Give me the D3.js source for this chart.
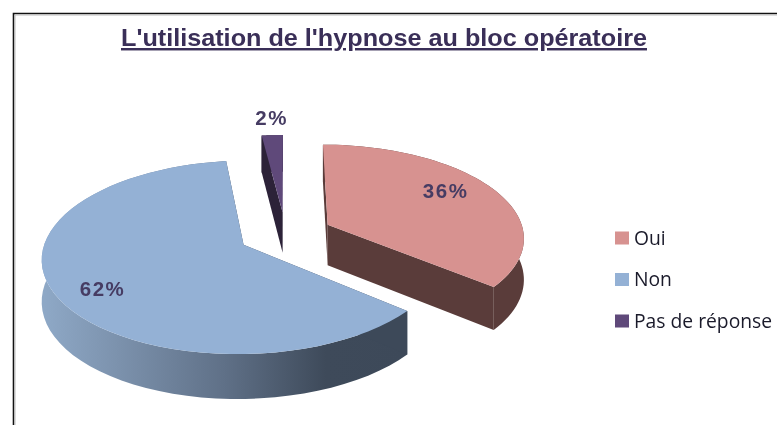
<!DOCTYPE html>
<html><head><meta charset="utf-8">
<style>html,body{margin:0;padding:0;background:#fff}svg{display:block}</style>
<script src="https://cdn.jsdelivr.net/npm/d3@7/dist/d3.min.js"></script>
</head><body><div id="c"></div>
<script>
const chartTitle = "L'utilisation de l'hypnose au bloc opératoire";
const categories = ["Oui", "Non", "Pas de réponse"];
const values = [36, 62, 2];
const topColors = ["#d79290", "#94b1d5", "#5f497a"];
const wallColors = ["#5a3c3a", "url(#nonWall)", "#2c2238"];
const W = 777, H = 425;
const CX = 285.5, CY = 234, RX = 196.5, RY = 92.4, K = 0.127, EXPLODE = 0.24;
const labelShift = [[118, -33], [-141, 45], [-11, -94]];

const svg = d3.select("#c").append("svg").attr("width", W).attr("height", H)
  .style("filter", "blur(0.7px)");

const defs = svg.append("defs");
const g = defs.append("linearGradient").attr("id", "nonWall")
  .attr("gradientUnits", "userSpaceOnUse").attr("x1", 45).attr("x2", 405).attr("y1", 0).attr("y2", 0);
[[0, "#8ea8c6"], [0.2, "#7c92ad"], [0.5, "#5f7087"], [0.78, "#3e4a5a"], [1, "#3d4959"]]
  .forEach(([o, c]) => g.append("stop").attr("offset", o).attr("stop-color", c));

// frame
svg.append("path").attr("d", `M${W},13.5H13.5V${H}`).attr("fill", "none").attr("stroke", "#111").attr("stroke-width", 1.6);
svg.append("path").attr("d", `M${W},15H15V${H}`).attr("fill", "none").attr("stroke", "#bbb").attr("stroke-width", 1);

svg.append("text").text(chartTitle).attr("x", 121).attr("y", 46)
  .attr("font-family", "Liberation Sans").attr("font-weight", "bold").attr("font-size", 24.5)
  .attr("text-decoration", "underline").attr("fill", "#3a2f58")
  .attr("textLength", 526).attr("lengthAdjust", "spacingAndGlyphs");

const project = (X, Z) => {
  const s = 1 / (1 - K * Z);
  return [CX + RX * X * s, CY + RY * Z * s];
};
const depth = Z => 41 + 3.5 * Z;

const arcs = d3.pie().sort(null).value(d => d)(values);
const line = d3.line();
const N = 60;

const slices = arcs.map((a, i) => {
  const mid = (a.startAngle + a.endAngle) / 2;
  const ox = EXPLODE * Math.sin(mid), oz = -EXPLODE * Math.cos(mid);
  const apex = project(ox, oz);
  const apexB = [apex[0], apex[1] + depth(oz)];
  const rim = d3.range(N + 1).map(t => {
    const an = d3.interpolateNumber(a.startAngle, a.endAngle)(t / N);
    const X = ox + Math.sin(an), Z = oz - Math.cos(an);
    const p = project(X, Z);
    return { p, b: [p[0], p[1] + depth(Z)] };
  });
  return { i, apex, apexB, rim };
});

// back to front: Pas de réponse, Oui, Non
[2, 0, 1].forEach(idx => {
  const s = slices[idx];
  const gs = svg.append("g");
  const first = s.rim[0], last = s.rim[N];
  gs.append("path").attr("d", line([...s.rim.map(r => r.p), ...s.rim.map(r => r.b).reverse()]) + "Z")
    .attr("fill", wallColors[idx]);
  [first, last].forEach(e => gs.append("path")
    .attr("d", line([s.apex, e.p, e.b, s.apexB]) + "Z").attr("fill", wallColors[idx] === "url(#nonWall)" ? "#3d4959" : wallColors[idx]));
  gs.append("path").attr("d", line([s.apex, ...s.rim.map(r => r.p)]) + "Z").attr("fill", topColors[idx]);
});

// percentage labels
slices.forEach((s, i) => {
  svg.append("text").text(values[i] + "%")
    .attr("x", s.apex[0] + labelShift[i][0]).attr("y", s.apex[1] + labelShift[i][1] + 6)
    .attr("text-anchor", "middle").attr("font-family", "Liberation Sans").attr("font-weight", "bold")
    .attr("font-size", 20.5).attr("letter-spacing", 1.5).attr("fill", "#463c63");
});

// legend
const ly = d3.scalePoint().domain(categories).range([238, 321]);
categories.forEach((c, i) => {
  svg.append("rect").attr("x", 615).attr("y", ly(c) - 6.5).attr("width", 14).attr("height", 13).attr("fill", topColors[i]);
  svg.append("text").text(c).attr("x", 634).attr("y", ly(c) + 6.5)
    .attr("font-family", "Open Sans").attr("font-size", 19.3).attr("fill", "#1a1a2a");
});
</script></body></html>
